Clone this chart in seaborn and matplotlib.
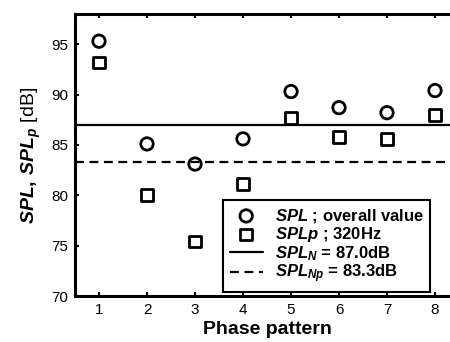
import matplotlib
matplotlib.use('Agg')
import matplotlib.pyplot as plt
import seaborn as sns
import pandas as pd

# values
pattern = [1, 2, 3, 4, 5, 6, 7, 8]
spl_overall = [95.3, 85.1, 83.1, 85.6, 90.3, 88.7, 88.2, 90.4]
spl_320hz = [93.2, 80.0, 75.4, 81.1, 87.7, 85.8, 85.6, 88.0]
spl_n = 87.0
spl_np = 83.3

df = pd.DataFrame({'pattern': pattern, 'SPL': spl_overall, 'SPLp': spl_320hz})

sns.set_style('ticks')
plt.rcParams['font.family'] = ['Liberation Sans', 'DejaVu Sans']
plt.rcParams['mathtext.fontset'] = 'custom'
plt.rcParams['mathtext.it'] = 'Liberation Sans:italic:bold'
plt.rcParams['mathtext.rm'] = 'Liberation Sans:bold'
plt.rcParams['mathtext.bf'] = 'Liberation Sans:bold'
for key in ['text.color', 'axes.labelcolor', 'xtick.color', 'ytick.color', 'axes.edgecolor']:
    plt.rcParams[key] = 'black'

fig = plt.figure(figsize=(4.5, 3.42), dpi=100)
ax = fig.add_axes([75 / 450, 46 / 342, 384 / 450, 282 / 342])

sns.scatterplot(data=df, x='pattern', y='SPL', ax=ax, marker='o', s=80,
                facecolor='none', edgecolor='black', linewidth=2,
                label='$SPL$ ; overall value')
sns.scatterplot(data=df, x='pattern', y='SPLp', ax=ax, marker='s', s=70,
                facecolor='none', edgecolor='black', linewidth=2,
                label='$SPLp$ ; 320Hz')
ax.axhline(spl_n, color='black', lw=1.6, label='$SPL_N$ = 87.0dB')
ax.axhline(spl_np, color='black', lw=1.6, ls=(0, (4, 2.5)), label='$SPL_{Np}$ = 83.3dB')

ax.set_xlim(0.5, 8.5)
ax.set_ylim(70, 98)
ax.set_xticks(pattern)
ax.set_yticks([70, 75, 80, 85, 90, 95])
ax.tick_params(direction='in', top=True, length=3, width=1.5, labelsize=11, pad=5)

for side in ['left', 'bottom', 'top']:
    ax.spines[side].set_linewidth(2.2)
ax.spines['right'].set_visible(False)

ax.set_xlabel('Phase pattern', fontsize=14, fontweight='bold', labelpad=3)
ax.set_ylabel('$SPL,\\,SPL_p$ [dB]', fontsize=14, labelpad=6)

leg = ax.legend(loc='lower left', bbox_to_anchor=(0.385, 0.015), fontsize=12,
                frameon=True, fancybox=False, framealpha=1, borderaxespad=0,
                labelspacing=0.0, handlelength=2.0, handletextpad=0.7,
                borderpad=0.4)
leg.get_frame().set_edgecolor('black')
leg.get_frame().set_linewidth(1.5)
for t in leg.get_texts():
    t.set_fontweight('bold')

fig.savefig('out.png', dpi=100)
